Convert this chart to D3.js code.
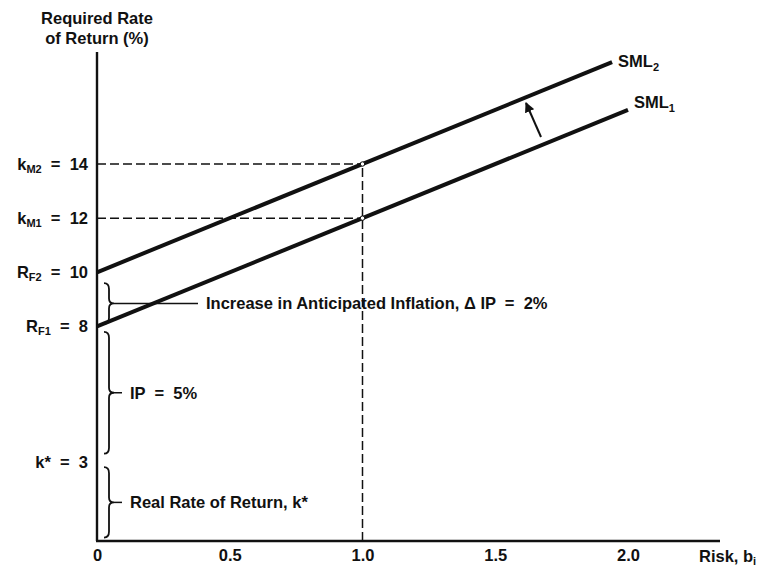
<!DOCTYPE html>
<html><head><meta charset="utf-8">
<script src="https://cdn.jsdelivr.net/npm/d3@7"></script>
<style>body{margin:0;background:#fff}text{font-family:"Liberation Sans",Arial,sans-serif;fill:#111;font-weight:bold}</style>
</head><body><svg id="c" width="768" height="566"></svg>
<script>
// ---- data ----
const xTicks = [0, 0.5, 1.0, 1.5, 2.0];
const xTickLabels = ["0", "0.5", "1.0", "1.5", "2.0"];
const sml1 = [[0, 8], [2.0, 16]];
const sml2 = [[0, 10], [1.94, 17.76]];
const yMarks = [
  {v: 14, main: "k", sub: "M2", rest: " = 14"},
  {v: 12, main: "k", sub: "M1", rest: " = 12"},
  {v: 10, main: "R", sub: "F2", rest: " = 10"},
  {v: 8,  main: "R", sub: "F1", rest: " = 8"},
  {v: 3,  main: "k* = 3", sub: "", rest: ""}
];
const marketBeta = 1.0;
const marketReturns = [14, 12];
const braces = [
  {y0: 9.6, y1: 8.1, label: "Increase in Anticipated Inflation, \u0394 IP = 2%", long: true},
  {y0: 7.8, y1: 3.3, label: "IP = 5%"},
  {y0: 2.8, y1: 0.2, label: "Real Rate of Return, k*"}
];

// ---- chart ----
const FS = 16.5, SUB = 11;
const svg = d3.select("#c");
const x = d3.scaleLinear().domain([0, 2]).range([97, 628]);
const y = d3.scaleLinear().domain([0, 14]).range([543, 164]);
const axisY = 541;

// axes lines
svg.append("line").attr("x1", x(0)).attr("x2", x(0)).attr("y1", axisY).attr("y2", 52)
  .attr("stroke", "#111").attr("stroke-width", 2.4);
svg.append("line").attr("x1", x(0) - 1).attr("x2", 720).attr("y1", axisY).attr("y2", axisY)
  .attr("stroke", "#111").attr("stroke-width", 2.4);

// x tick labels via axis
const xa = svg.append("g").attr("transform", `translate(0,${axisY})`)
  .call(d3.axisBottom(x).tickValues(xTicks).tickSize(0).tickPadding(8)
    .tickFormat((d, i) => xTickLabels[i]));
xa.select(".domain").remove();
xa.selectAll("text").attr("font-size", FS).attr("font-family", "Liberation Sans, Arial, sans-serif")
  .attr("font-weight", "bold").attr("fill", "#111");
svg.append("text").attr("x", 699).attr("y", 562).attr("font-size", FS)
  .html(`Risk, b<tspan font-size="${SUB}" dy="3">i</tspan>`);

// y title
svg.append("text").attr("x", 97).attr("y", 24).attr("text-anchor", "middle").attr("font-size", FS).text("Required Rate");
svg.append("text").attr("x", 97).attr("y", 44).attr("text-anchor", "middle").attr("font-size", FS).text("of Return (%)");

// y labels
yMarks.forEach(m => {
  const t = svg.append("text").attr("x", 88).attr("y", y(m.v) + 6).attr("text-anchor", "end")
    .attr("font-size", FS).attr("xml:space", "preserve");
  t.append("tspan").text(m.main.replace(" = ", "  =  "));
  if (m.sub) {
    t.append("tspan").attr("font-size", SUB).attr("dy", 3).text(m.sub);
    t.append("tspan").attr("dy", -3).text(m.rest.replace(" = ", "  =  "));
  }
});

// dashed guides
marketReturns.forEach(r => {
  svg.append("line").attr("x1", x(0)).attr("x2", x(marketBeta)).attr("y1", y(r)).attr("y2", y(r))
    .attr("stroke", "#111").attr("stroke-width", 1.5).attr("stroke-dasharray", "9,4");
});
svg.append("line").attr("x1", x(marketBeta)).attr("x2", x(marketBeta)).attr("y1", axisY).attr("y2", y(d3.max(marketReturns)))
  .attr("stroke", "#111").attr("stroke-width", 1.5).attr("stroke-dasharray", "9,4");

// SML lines
const line = d3.line().x(d => x(d[0])).y(d => y(d[1]));
[sml1, sml2].forEach(s => svg.append("path").attr("d", line(s)).attr("fill", "none")
  .attr("stroke", "#111").attr("stroke-width", 4));

// circles at intersections
marketReturns.forEach(r => svg.append("circle").attr("cx", x(marketBeta)).attr("cy", y(r)).attr("r", 2.2)
  .attr("fill", "#fff").attr("stroke", "#111").attr("stroke-width", 1));

// SML labels
const e1 = sml1[sml1.length - 1], e2 = sml2[sml2.length - 1];
svg.append("text").attr("x", x(e2[0]) + 6).attr("y", y(e2[1]) + 5).attr("font-size", FS)
  .html(`SML<tspan font-size="${SUB}" dy="4">2</tspan>`);
svg.append("text").attr("x", x(e1[0]) + 6).attr("y", y(e1[1]) - 2).attr("font-size", FS)
  .html(`SML<tspan font-size="${SUB}" dy="4">1</tspan>`);

// shift arrow
svg.append("defs").append("marker").attr("id", "ah").attr("viewBox", "0 0 10 10").attr("refX", 9).attr("refY", 5)
  .attr("markerWidth", 5).attr("markerHeight", 5).attr("orient", "auto")
  .append("path").attr("d", "M0,0L10,5L0,10z").attr("fill", "#111");
svg.append("line").attr("x1", 541).attr("y1", 137).attr("x2", 526).attr("y2", 103)
  .attr("stroke", "#111").attr("stroke-width", 2).attr("marker-end", "url(#ah)");

// braces
function bracePath(xb, ya, yb, w) {
  const ym = (ya + yb) / 2;
  const c = w / 2;
  return `M${xb},${ya} Q${xb + c},${ya} ${xb + c},${ya + 6} L${xb + c},${ym - 5} Q${xb + c},${ym} ${xb + w},${ym}` +
         ` Q${xb + c},${ym} ${xb + c},${ym + 5} L${xb + c},${yb - 6} Q${xb + c},${yb} ${xb},${yb}`;
}
braces.forEach(b => {
  const ya = y(b.y0), yb = y(b.y1), ym = (ya + yb) / 2;
  svg.append("path").attr("d", bracePath(104, ya, yb, 10)).attr("fill", "none")
    .attr("stroke", "#111").attr("stroke-width", 1.8);
  const lx2 = b.long ? 198 : 122;
  svg.append("line").attr("x1", 114).attr("x2", lx2).attr("y1", ym).attr("y2", ym)
    .attr("stroke", "#111").attr("stroke-width", 1.5);
  svg.append("text").attr("x", lx2 + 8).attr("y", ym + 6).attr("font-size", FS).attr("xml:space", "preserve")
    .text(b.label.replace(" = ", "  =  "));
});
</script></body></html>
